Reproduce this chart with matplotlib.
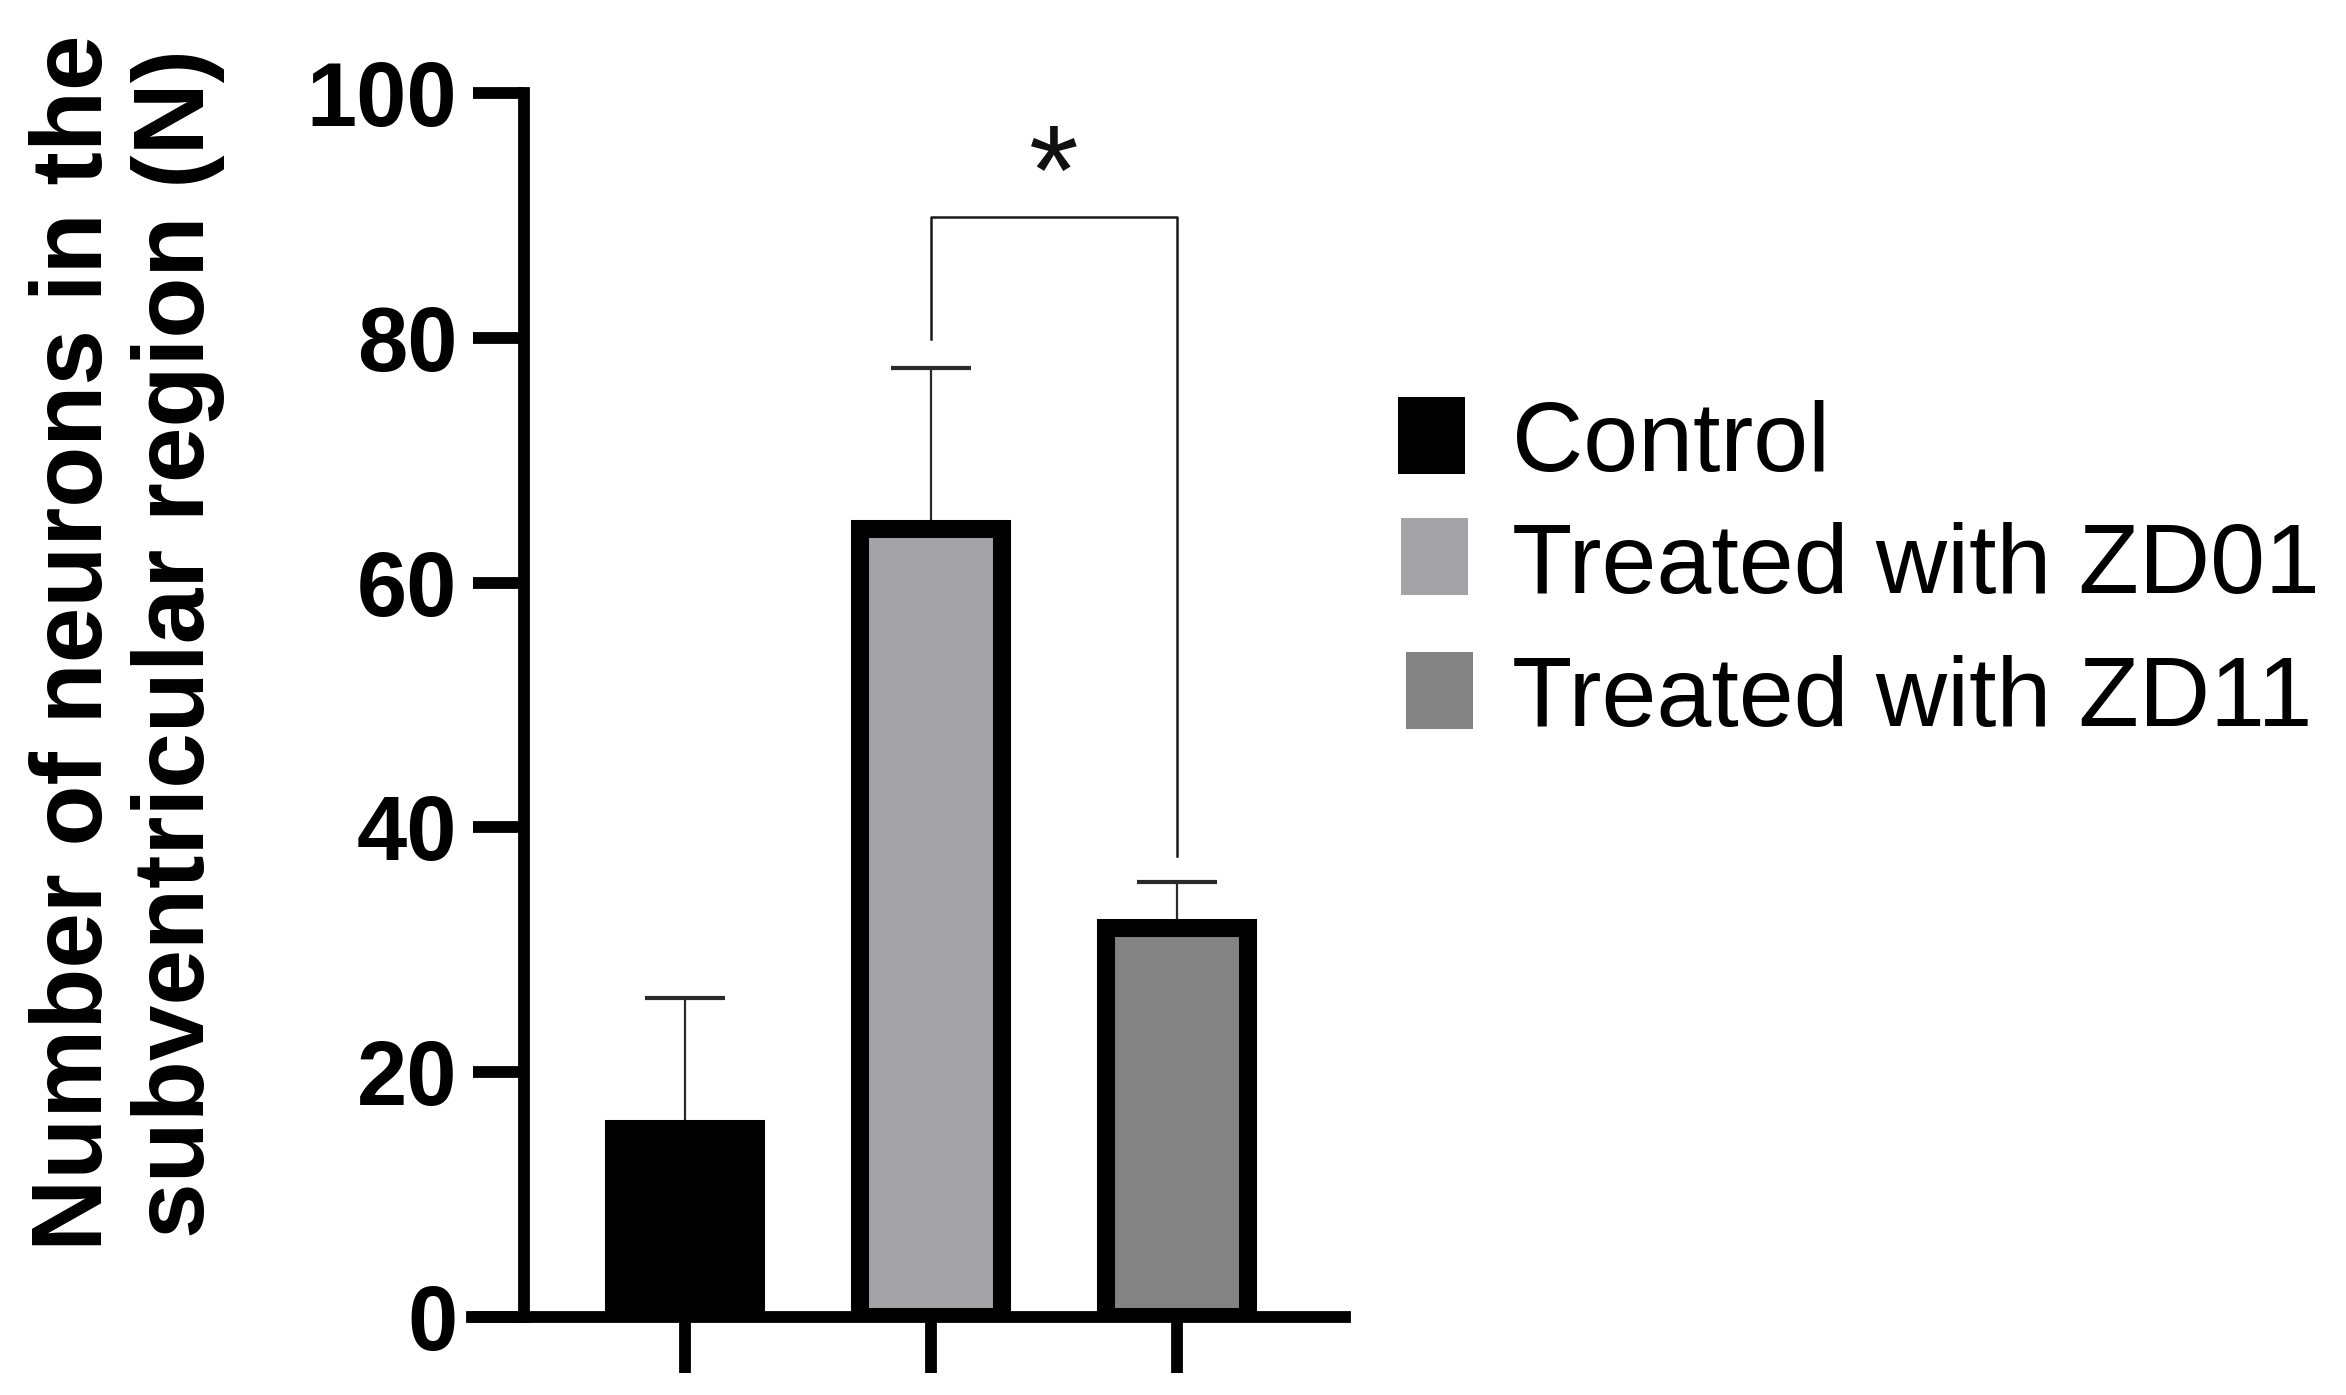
import matplotlib
matplotlib.use("Agg")
import matplotlib.pyplot as plt
from matplotlib.patches import Rectangle

# ---- data ----
groups = ["Control", "Treated with ZD01", "Treated with ZD11"]
means = [15.4, 64.4, 31.8]
sem_upper = [10.7, 13.1, 3.7]
bar_colors = ["#000000", "#a3a3a8", "#838383"]
yticks = [0, 20, 40, 60, 80, 100]
ylabel = "Number of neurons in the\nsubventricular region (N)"
sig_pair = (1, 2)
sig_label = "*"
sig_y = 89.9
sig_left_low = 79.9
sig_right_low = 37.7

plt.rcParams['font.family'] = ['Liberation Sans', 'DejaVu Sans']

W, H = 2346, 1395
fig = plt.figure(figsize=(W / 100, H / 100), dpi=100)
fig.patch.set_facecolor("white")

ax_left, ax_right = 472, 1345
ax_top, ax_bot = 93, 1317
ax = fig.add_axes([ax_left / W, 1 - ax_bot / H, (ax_right - ax_left) / W, (ax_bot - ax_top) / H])

x = list(range(len(groups)))
ax.errorbar(x, means, yerr=[[0] * len(means), sem_upper], fmt="none",
            ecolor="#2a2a2a", elinewidth=1.6, capsize=29, capthick=3.0, zorder=2)
ax.bar(x, means, width=0.58, color=bar_colors, edgecolor="black", linewidth=13, zorder=3)

# significance bracket
i, j = sig_pair
ax.plot([i, i, j, j], [sig_left_low, sig_y, sig_y, sig_right_low], color="#1a1a1a", lw=1.8,
        zorder=4, clip_on=False)
ax.text((i + j) / 2, sig_y - 2.0, sig_label, ha="center", va="bottom", fontsize=92,
        color="#111111")

ax.set_xlim(-0.866, 2.683)
ax.set_ylim(0, 100)
for s in ["top", "right"]:
    ax.spines[s].set_visible(False)
ax.spines["left"].set_position(("axes", 0.0596))
ax.spines["left"].set_linewidth(8.5)
ax.spines["bottom"].set_linewidth(8.5)
ax.spines["left"].set_bounds(0, 100)
ax.tick_params(axis="y", length=37, width=8.5, pad=11, direction="out", labelsize=65)
ax.tick_params(axis="x", length=40, width=8.5, direction="out")
ax.set_yticks(yticks)
ax.set_yticklabels([str(t) for t in yticks], fontsize=65, fontweight="bold")
ax.set_xticks(x)
ax.set_xticklabels([])
ax.set_facecolor("none")

fig.text(127 / W, 1 - 643 / H, ylabel, rotation=90, ha="center", va="center",
         multialignment="center", fontsize=72, fontweight="bold", linespacing=1.12)

# legend (manual)
rows_y = [436, 557, 691]
sq_x = [1398, 1401, 1406]
for k, (lab, col) in enumerate(zip(groups, bar_colors)):
    fig.patches.append(Rectangle((sq_x[k] / W, 1 - (rows_y[k] + 38) / H), 67 / W, 77 / H,
                                 transform=fig.transFigure, facecolor=col, edgecolor="none"))
    fig.text(1512 / W, 1 - rows_y[k] / H, lab, ha="left", va="center_baseline", fontsize=71)

fig.savefig("out.png", dpi=100, facecolor="white")
